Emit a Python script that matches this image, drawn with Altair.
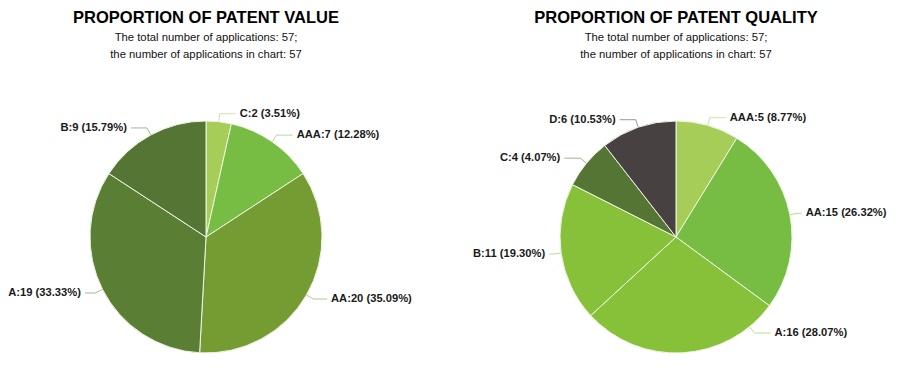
import altair as alt
import pandas as pd

# ---- data ----
value_cats = ["C", "AAA", "AA", "A", "B"]
value_counts = [2, 7, 20, 19, 9]
value_pcts = ["3.51%", "12.28%", "35.09%", "33.33%", "15.79%"]
value_colors = ["#a6cd57", "#77bc43", "#759c33", "#5b7e35", "#557534"]

quality_cats = ["AAA", "AA", "A", "B", "C", "D"]
quality_counts = [5, 15, 16, 11, 4, 6]
quality_pcts = ["8.77%", "26.32%", "28.07%", "19.30%", "4.07%", "10.53%"]
quality_colors = ["#a6cd57", "#77bc43", "#87c13a", "#87c13a", "#557534", "#474241"]

subtitle_lines = ["The total number of applications: 57;",
                  "the number of applications in chart: 57"]

W = 396
TOP, BOTTOM = 133, 125          # plot extent above / below the pie centre
H = TOP + BOTTOM
R = 116                         # pie radius
RL = R + 8                      # radius of the leader-line elbow
FLOOR = 96                      # lowest a label may sit below the centre
EDGE = 121                      # farthest a leader may reach sideways
FONT = "Liberation Sans"
LABEL_SIZE = 11.2


def pie(title, cats, counts, pcts, colors):
    df = pd.DataFrame({
        "cat": cats,
        "value": counts,
        "pct": pcts,
        "idx": list(range(len(cats))),
    })
    df["label"] = [f"{c}:{v} ({p})" for c, v, p in zip(cats, counts, pcts)]

    color = alt.Color("cat:N", scale=alt.Scale(domain=cats, range=colors), legend=None)
    xs = alt.Scale(domain=[-W / 2, W / 2], nice=False, zero=False)
    ys = alt.Scale(domain=[-BOTTOM, TOP], nice=False, zero=False)

    base = alt.Chart(df)

    arcs = base.mark_arc(outerRadius=R, stroke="#eef5e2", strokeWidth=1).encode(
        x=alt.X(datum=0, scale=xs, axis=None),
        y=alt.Y(datum=0, scale=ys, axis=None),
        theta=alt.Theta("value:Q", stack=True),
        order=alt.Order("idx:Q"),
        color=color,
    )

    geo = base.transform_joinaggregate(
        total="sum(value)"
    ).transform_window(
        cum="sum(value)", sort=[alt.SortField("idx")], frame=[None, 0]
    ).transform_calculate(
        mid="2*PI*(datum.cum - datum.value/2)/datum.total"
    ).transform_calculate(
        side="sin(datum.mid) >= 0 ? 1 : -1",
        y1=f"max({RL}*cos(datum.mid), -{FLOOR})",
    ).transform_calculate(
        x1=f"datum.side*sqrt({RL * RL} - datum.y1*datum.y1)",
    ).transform_calculate(
        x0=f"datum.x1*{R}/{RL}",
        y0=f"datum.y1*{R}/{RL}",
        x2=f"datum.side*max(abs(datum.x1) + 4, min(abs(datum.x1) + 16, {EDGE}))",
    ).transform_calculate(
        xt="datum.x2 + 4*datum.side",
    )

    seg1 = geo.mark_rule(strokeWidth=1, opacity=0.55).encode(
        x=alt.X("x0:Q", scale=xs, axis=None),
        y=alt.Y("y0:Q", scale=ys, axis=None),
        x2="x1:Q", y2="y1:Q",
        color=color,
    )
    seg2 = geo.mark_rule(strokeWidth=1, opacity=0.55).encode(
        x=alt.X("x1:Q", scale=xs, axis=None),
        y=alt.Y("y1:Q", scale=ys, axis=None),
        x2="x2:Q", y2="y1:Q",
        color=color,
    )
    txt_r = geo.transform_filter("datum.side > 0").mark_text(
        align="left", baseline="middle", font=FONT, fontSize=LABEL_SIZE,
        fontWeight="bold", color="#1a1a1a"
    ).encode(
        x=alt.X("xt:Q", scale=xs, axis=None),
        y=alt.Y("y1:Q", scale=ys, axis=None),
        text="label:N",
    )
    txt_l = geo.transform_filter("datum.side < 0").mark_text(
        align="right", baseline="middle", font=FONT, fontSize=LABEL_SIZE,
        fontWeight="bold", color="#1a1a1a"
    ).encode(
        x=alt.X("xt:Q", scale=xs, axis=None),
        y=alt.Y("y1:Q", scale=ys, axis=None),
        text="label:N",
    )

    return alt.layer(seg1, seg2, arcs, txt_r, txt_l).properties(
        width=W, height=H,
        title=alt.Title(
            text=title,
            subtitle=subtitle_lines,
            anchor="middle",
            font=FONT, fontSize=16.5, fontWeight="bold", color="#000000",
            subtitleFont=FONT, subtitleFontSize=11.3, subtitleColor="#111111",
            subtitleLineHeight=17, subtitlePadding=5,
            offset=44,
        ),
    ).resolve_scale(color="independent")


left = pie("PROPORTION OF PATENT VALUE", value_cats, value_counts, value_pcts, value_colors)
right = pie("PROPORTION OF PATENT QUALITY", quality_cats, quality_counts, quality_pcts, quality_colors)

chart = alt.hconcat(left, right, spacing=74, bounds="flush").resolve_scale(
    color="independent"
).properties(
    padding={"left": 0, "top": 2, "right": 0, "bottom": 0}
).configure_view(stroke=None)

chart.save("out.html", embed_options={"renderer": "svg", "actions": False})
